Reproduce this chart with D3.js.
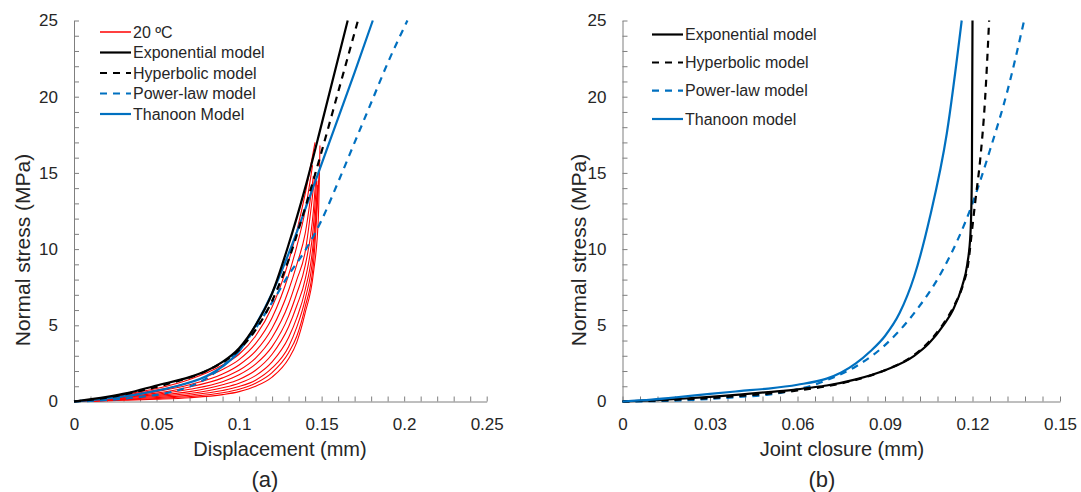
<!DOCTYPE html>
<html><head><meta charset="utf-8">
<script src="https://cdn.jsdelivr.net/npm/d3@7/dist/d3.min.js"></script>
<style>
body{margin:0;background:#fff;}
text{font-family:"Liberation Sans",Arial,sans-serif;fill:#262626;}
</style></head>
<body><svg id="c" width="1081" height="492"></svg>
<script>
// ---------- Panel (a) data: displacement (mm) vs normal stress (MPa) ----------
const aXTicks = [0, 0.05, 0.1, 0.15, 0.2, 0.25];
const yTicks = [0, 5, 10, 15, 20, 25];
const bXTicks = [0, 0.03, 0.06, 0.09, 0.12, 0.15];

const aExponential = [[0,0],[0.02,0.3],[0.0323,0.55],[0.05,1.05],[0.07,1.6],[0.08,2.0],[0.09,2.6],[0.1,3.5],[0.11,5.0],[0.12,7.1],[0.13,10.3],[0.14,14.0],[0.15,18.2],[0.1658,25]];
const aHyperbolic = [[0,0],[0.02,0.25],[0.04,0.7],[0.06,1.25],[0.08,2.0],[0.1,3.4],[0.11,4.7],[0.12,6.6],[0.13,9.3],[0.14,12.7],[0.15,16.4],[0.16,20.3],[0.172,25]];
const aPowerLaw = [[0,0],[0.02,0.1],[0.04,0.3],[0.06,0.65],[0.08,1.5],[0.09,2.3],[0.1,3.4],[0.11,4.8],[0.12,6.5],[0.13,8.3],[0.14,9.9],[0.15,11.9],[0.16,14.4],[0.17,17.0],[0.18,19.6],[0.19,22.2],[0.202,25]];
const aThanoon = [[0,0],[0.02,0.2],[0.04,0.5],[0.06,0.95],[0.08,1.65],[0.09,2.3],[0.1,3.3],[0.11,5.0],[0.12,7.1],[0.13,9.7],[0.14,12.6],[0.15,15.6],[0.16,18.6],[0.17,21.6],[0.181,25]];

// 20 ºC measured loading curves
const redGrid = [0.005,0.03,0.05,0.07,0.09,0.1,0.11,0.12,0.13,0.135,0.14];
const red1  = [0,0.45,0.85,1.45,2.4,3.1,4.3,6.2,9.2,11.2,13.6];   const red1End  = [[0.146,17.0]];
const red2  = [0,0.4,0.75,1.25,2.1,2.75,3.8,5.5,8.3,10.2,12.5];   const red2End  = [[0.1445,15.5]];
const red3  = [0,0.35,0.65,1.1,1.8,2.4,3.3,4.8,7.3,9.0,11.0];     const red3End  = [[0.145,14.8]];
const red4  = [0,0.3,0.55,0.95,1.55,2.05,2.85,4.2,6.4,8.0,9.8];   const red4End  = [[0.1445,13.5],[0.146,15.0]];
const red5  = [0,0.26,0.47,0.8,1.3,1.75,2.45,3.6,5.6,7.1,8.9];    const red5End  = [[0.145,12.5],[0.1465,14.6]];
const red6  = [0,0.22,0.4,0.65,1.1,1.45,2.05,3.1,4.9,6.3,8.0];    const red6End  = [[0.145,11.5],[0.147,14.5]];
const red7  = [0,0.18,0.33,0.52,0.9,1.2,1.7,2.6,4.2,5.5,7.3];     const red7End  = [[0.145,10.5],[0.1475,14.2]];
const red8  = [0,0.14,0.26,0.42,0.72,0.98,1.4,2.2,3.6,4.9,6.7];   const red8End  = [[0.145,9.8],[0.148,14.5]];
const red9  = [0,0.11,0.2,0.33,0.57,0.8,1.2,1.9,3.2,4.3,6.2];     const red9End  = [[0.145,9.0],[0.1485,15.0]];
const red10 = [0,0.08,0.15,0.25,0.45,0.65,1.0,1.6,2.8,3.9,5.8];   const red10End = [[0.145,8.4],[0.148,12.0],[0.149,16.8]];

// ---------- Panel (b) data: joint closure (mm) vs normal stress (MPa) ----------
const bExponential = [[0,0],[0.01,0.08],[0.02,0.18],[0.03,0.3],[0.04,0.45],[0.05,0.62],[0.06,0.8],[0.065,0.92],[0.07,1.05],[0.08,1.45],[0.09,2.05],[0.1,3.0],[0.105,3.8],[0.11,5.0],[0.1133,6.0],[0.1165,7.6],[0.1182,9.0],[0.1193,11],[0.1198,15],[0.12,25]];
const bHyperbolic = [[0,0],[0.01,0.05],[0.02,0.13],[0.03,0.23],[0.04,0.36],[0.05,0.52],[0.06,0.72],[0.07,1.0],[0.08,1.42],[0.09,2.05],[0.1,3.05],[0.105,3.9],[0.11,5.1],[0.114,6.4],[0.117,7.8],[0.1185,9.0],[0.1197,11.0],[0.121,13.2],[0.1226,15.8],[0.1243,19.8],[0.1257,25]];
const bPowerLaw = [[0,0],[0.01,0.02],[0.02,0.07],[0.03,0.17],[0.04,0.3],[0.05,0.45],[0.06,0.8],[0.065,1.05],[0.07,1.4],[0.08,2.3],[0.09,3.7],[0.1,5.8],[0.11,8.7],[0.12,13.0],[0.126,16.5],[0.132,20.4],[0.1377,25]];
const bThanoon = [[0,0],[0.01,0.12],[0.02,0.3],[0.03,0.5],[0.04,0.68],[0.05,0.85],[0.06,1.1],[0.07,1.5],[0.075,1.9],[0.08,2.5],[0.085,3.3],[0.09,4.3],[0.095,5.8],[0.1,8.2],[0.1054,12.1],[0.1112,17.6],[0.1163,25]];

const aLegend = ["20 ºC","Exponential model","Hyperbolic model","Power-law model","Thanoon Model"];
const bLegend = ["Exponential model","Hyperbolic model","Power-law model","Thanoon model"];

// ---------- drawing ----------
const RED="#ff0000", BLK="#000000", BLUE="#0070c0", AX="#7f7f7f";
const styles = {
  red:{stroke:RED,w:1.1,dash:null},
  exp:{stroke:BLK,w:2.2,dash:null},
  hyp:{stroke:BLK,w:2.2,dash:"7,6"},
  pow:{stroke:BLUE,w:2.2,dash:"7,6"},
  tha:{stroke:BLUE,w:2.2,dash:null}
};
const svg = d3.select("#c");

function panel(opt){
  const x = d3.scaleLinear().domain([0,opt.xmax]).range(opt.xr);
  const y = d3.scaleLinear().domain([0,25]).range([401.5,20.5]);
  const g = svg.append("g");
  const minorX = d3.range(0, opt.nMinor+1).map(i => +(i*opt.xmax/opt.nMinor).toFixed(6));
  const xa = d3.axisBottom(x).tickValues(minorX).tickSizeInner(-5).tickSizeOuter(0).tickPadding(16)
      .tickFormat(d => opt.xTicks.some(t => Math.abs(t-d)<1e-9) ? opt.fmt(d) : "");
  const gx = g.append("g").attr("transform",`translate(0,${y(0)})`).call(xa);
  const ya = d3.axisLeft(y).tickValues(d3.range(0,26)).tickSizeInner(-5).tickSizeOuter(0).tickPadding(16)
      .tickFormat(d => yTicks.includes(d) ? d : "");
  const gy = g.append("g").attr("transform",`translate(${x(0)},0)`).call(ya);
  [gx,gy].forEach(a=>{
    a.selectAll("path,line").attr("stroke",AX).attr("stroke-width",1);
    a.selectAll("text").attr("font-size",17).attr("fill","#262626")
      .style("font-family","'Liberation Sans',Arial,sans-serif");
  });
  const line = d3.line().x(d=>x(d[0])).y(d=>y(d[1])).curve(d3.curveMonotoneX);
  const draw = (data, s) => g.append("path").attr("d",line(data)).attr("fill","none")
      .attr("stroke",s.stroke).attr("stroke-width",s.w).attr("stroke-dasharray",s.dash)
      .attr("stroke-linejoin","round");
  return {x,y,g,draw};
}

// Panel (a)
const A = panel({xmax:0.25, xr:[74,486.7], nMinor:25, xTicks:aXTicks, fmt:d=>d===0?"0":String(+d.toFixed(2))});
const reds = [[red1,red1End],[red2,red2End],[red3,red3End],[red4,red4End],[red5,red5End],
              [red6,red6End],[red7,red7End],[red8,red8End],[red9,red9End],[red10,red10End]];
reds.forEach(([vals,end]) => A.draw(redGrid.map((d,i)=>[d,vals[i]]).concat(end), styles.red));
A.draw(aPowerLaw, styles.pow);
A.draw(aThanoon, styles.tha);
A.draw(aHyperbolic, styles.hyp);
A.draw(aExponential, styles.exp);

// Panel (b)
const B = panel({xmax:0.15, xr:[622.5,1060], nMinor:25, xTicks:bXTicks, fmt:d=>d===0?"0":String(+d.toFixed(2))});
B.draw(bPowerLaw, styles.pow);
B.draw(bHyperbolic, styles.hyp);
B.draw(bExponential, styles.exp);
B.draw(bThanoon, styles.tha);

// Legends
function legend(items, keys, x0, ys, fs){
  items.forEach((t,i)=>{
    const s = styles[keys[i]];
    svg.append("line").attr("x1",x0).attr("x2",x0+31).attr("y1",ys[i]).attr("y2",ys[i])
      .attr("stroke",s.stroke).attr("stroke-width",s===styles.red?1.5:s.w).attr("stroke-dasharray",s.dash);
    svg.append("text").attr("x",x0+33).attr("y",ys[i]).attr("dy","0.35em").attr("font-size",fs).text(t);
  });
}
legend(aLegend, ["red","exp","hyp","pow","tha"], 100, [32,52.5,73,93.5,114], 16);
legend(bLegend, ["exp","hyp","pow","tha"], 652, [34.5,62.5,90.7,119], 16);

// Axis titles
function t(x,y,s,fs,rot){
  const e = svg.append("text").attr("text-anchor","middle").attr("font-size",fs).text(s);
  if(rot) e.attr("transform",`translate(${x},${y}) rotate(-90)`); else e.attr("x",x).attr("y",y);
}
t(280,456,"Displacement (mm)",20);
t(842,456,"Joint closure (mm)",20);
t(265,487,"(a)",22);
t(822,487,"(b)",22);
t(30,250,"Normal stress (MPa)",21,true);
t(586,250,"Normal stress (MPa)",21,true);
</script></body></html>
